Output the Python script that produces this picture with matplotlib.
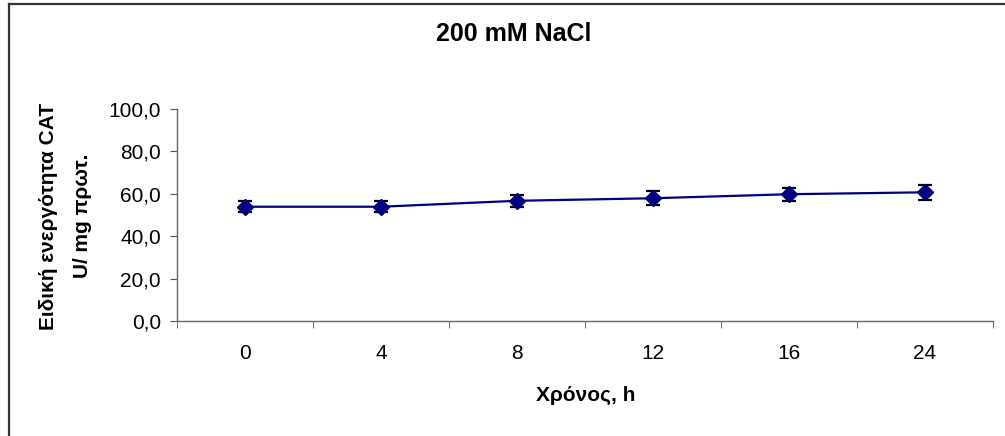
import numpy as np
import matplotlib
matplotlib.use("Agg")
import matplotlib.pyplot as plt
from matplotlib.lines import Line2D
from matplotlib.ticker import FixedLocator, FuncFormatter

plt.rcParams['font.family'] = ['Liberation Sans', 'DejaVu Sans']

# data
times = ['0', '4', '8', '12', '16', '24']
activity = [53.9, 53.9, 56.7, 57.9, 59.8, 60.7]
errors = [2.7, 2.7, 2.9, 3.4, 3.1, 3.5]

title = '200 mM NaCl'
xlabel = 'Χρόνος, h'
ylabel_lines = ['Ειδική ενεργότητα CAT', 'U/ mg πρωτ.']

fig = plt.figure(figsize=(10.05, 4.36), dpi=100)
ax = fig.add_axes([0.1761, 0.2638, 0.812, 0.4862])

x = np.arange(len(times))
ax.plot(x, activity, color='#000080', lw=1.6, marker='D', ms=8.5,
        mfc='#000080', mec='#000080', zorder=3)
ax.errorbar(x, activity, yerr=errors, fmt='none', ecolor='black',
            elinewidth=1.6, capsize=5, capthick=1.6, zorder=2)

ax.set_xlim(-0.5, len(times) - 0.5)
ax.set_ylim(0, 100)
ax.set_yticks(np.arange(0, 101, 20))
ax.yaxis.set_major_formatter(FuncFormatter(lambda v, p: f'{v:.1f}'.replace('.', ',')))

ax.set_xticks(x)
ax.set_xticklabels(times)
ax.xaxis.set_minor_locator(FixedLocator(np.arange(-0.5, len(times), 1.0)))
ax.tick_params(axis='x', which='major', length=0, pad=16.5, labelsize=15)
ax.tick_params(axis='x', which='minor', length=5, color='#555555', direction='out')
ax.tick_params(axis='y', length=5, color='#555555', direction='out', labelsize=15, pad=6.5)

for s in ['top', 'right']:
    ax.spines[s].set_visible(False)
for s in ['left', 'bottom']:
    ax.spines[s].set_color('#666666')
    ax.spines[s].set_linewidth(1.0)

fig.text(0.511, 0.922, title, ha='center', va='center', fontsize=18, fontweight='bold')
fig.text(0.583, 0.094, xlabel, ha='center', va='center', fontsize=15, fontweight='bold')
# two y label lines, placed separately to get Excel's wide line gap
fig.text(48 / 1005, 0.504, ylabel_lines[0], ha='center', va='center', fontsize=15,
         fontweight='bold', rotation=90)
fig.text(82 / 1005, 0.504, ylabel_lines[1], ha='center', va='center', fontsize=15,
         fontweight='bold', rotation=90)

# outer chart frame (only left and top edges are inside the image)
fig.add_artist(Line2D([8.5 / 1005, 8.5 / 1005], [0, 1 - 4 / 436], color='#333333', lw=1.6,
                      transform=fig.transFigure))
fig.add_artist(Line2D([8.5 / 1005, 1], [1 - 4 / 436, 1 - 4 / 436], color='#333333', lw=1.6,
                      transform=fig.transFigure))

fig.savefig('out.png', dpi=100)
